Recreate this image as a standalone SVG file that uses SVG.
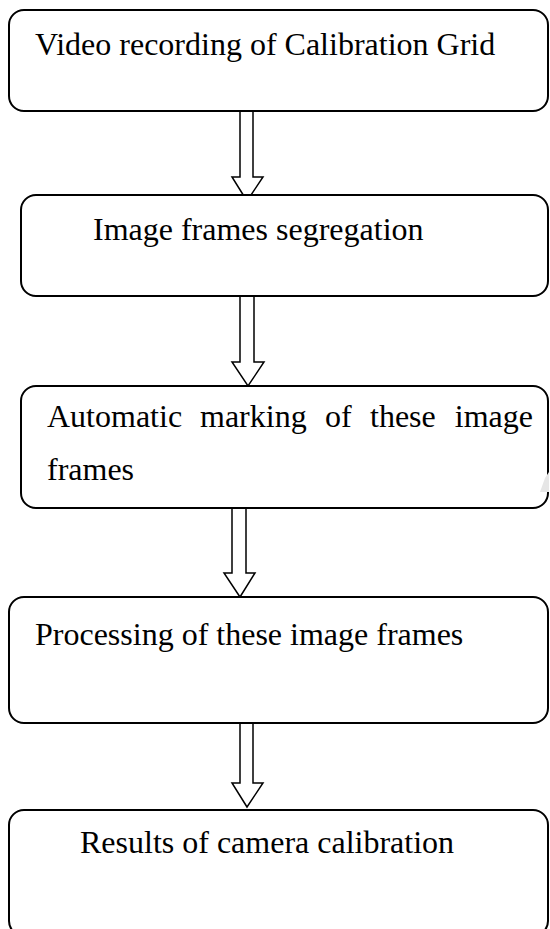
<svg xmlns="http://www.w3.org/2000/svg" width="550" height="929" viewBox="0 0 550 929">
<style>
.box{fill:#fff;stroke:#000;stroke-width:2}
.arr{fill:#fff;stroke:#000;stroke-width:1.5;stroke-linejoin:miter}
text{font-family:"Liberation Serif","Times New Roman",serif;font-size:32px;fill:#000}
</style>
<rect width="550" height="929" fill="#fff"/>
<g id="connectors">
<polygon class="arr" points="240,111 253,111 253,177 263,177 247,201 232,177 240,177"/>
<polygon class="arr" points="240,296 254,296 254,362 264,362 248,386 232,362 240,362"/>
<polygon class="arr" points="232,508 246,508 246,573 255,573 240,597 224,573 232,573"/>
<polygon class="arr" points="240,723 253,723 253,783 263,783 247,807 232,783 240,783"/>
</g>
<g id="node1">
<rect class="box" x="9" y="10" width="539" height="101" rx="15"/>
<text x="35" y="55">Video recording of Calibration Grid</text>
</g>
<g id="node2">
<rect class="box" x="21" y="195" width="527" height="101" rx="15"/>
<text x="93" y="240">Image frames segregation</text>
</g>
<g id="node3">
<rect class="box" x="21" y="386" width="527" height="122" rx="15"/>
<text x="47" y="427">Automatic</text>
<text x="200" y="427">marking</text>
<text x="325" y="427">of</text>
<text x="370" y="427">these</text>
<text x="533" y="427" text-anchor="end">image</text>
<text x="47" y="480">frames</text>
</g>
<g id="node4">
<rect class="box" x="9" y="597" width="539" height="126" rx="15"/>
<text x="35" y="645">Processing of these image frames</text>
</g>
<g id="node5">
<rect class="box" x="9" y="810" width="539" height="126" rx="15"/>
<text x="80" y="853">Results of camera calibration</text>
</g>
<polygon points="545,478 549,472 549,492 540,492" fill="#e6e6e6"/>
</svg>
